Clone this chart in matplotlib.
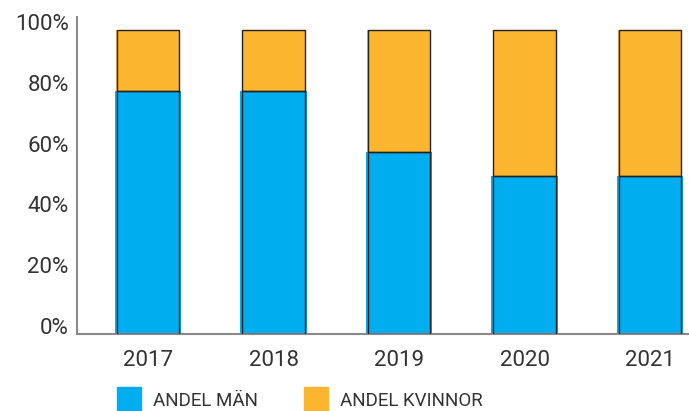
import matplotlib.pyplot as plt
from matplotlib.patches import Rectangle

years = ["2017", "2018", "2019", "2020", "2021"]
andel_man = [80, 80, 60, 52, 52]
andel_kvinnor = [20, 20, 40, 48, 48]
yticks = [0, 20, 40, 60, 80, 100]
ytick_labels = ["0%", "20%", "40%", "60%", "80%", "100%"]
legend_labels = ["ANDEL MÄN", "ANDEL KVINNOR"]

BLUE = "#00AEEF"
ORANGE = "#FBB52F"
TEXT = "#333333"
SPINE = "#8a8a8a"

plt.rcParams["font.family"] = ["Roboto", "DejaVu Sans"]


def main():
    fig = plt.figure(figsize=(6.89, 4.11), dpi=100)
    ax = fig.add_axes([77 / 689, 1 - 333.7 / 411, 1 - 77 / 689, (333.7 - 17) / 411])

    x = list(range(len(years)))
    width = 0.5

    # fills (slightly wider, like the hand-drawn look)
    ax.bar(x, andel_man, width=width * 1.06, color=BLUE, linewidth=0, zorder=2)
    ax.bar(x, andel_kvinnor, width=width * 1.02, bottom=andel_man,
           color=ORANGE, linewidth=0, zorder=2)
    # outlines
    ax.bar(x, andel_man, width=width, fill=False, edgecolor="#222222",
           linewidth=1.0, zorder=3)
    ax.bar(x, andel_kvinnor, width=width, bottom=andel_man, fill=False,
           edgecolor="#222222", linewidth=1.0, zorder=3)

    ax.set_xlim(-0.566, 4.31)
    ax.set_ylim(0, 104.3)
    ax.set_xticks(x)
    ax.set_xticklabels(years)
    ax.set_yticks(yticks)
    ax.set_yticklabels(ytick_labels)
    for lab in ax.get_yticklabels():
        lab.set_verticalalignment("baseline")
    ax.tick_params(axis="both", length=0, labelsize=16, colors=TEXT)
    ax.tick_params(axis="x", pad=12)
    ax.tick_params(axis="y", pad=6)

    for side in ["top", "right"]:
        ax.spines[side].set_visible(False)
    for side in ["left", "bottom"]:
        ax.spines[side].set_color(SPINE)
        ax.spines[side].set_linewidth(1.5)

    # legend
    W, H = 689, 411
    items = [(117, BLUE, 153, legend_labels[0]), (304, ORANGE, 340, legend_labels[1])]
    for sx, col, tx, label in items:
        fig.patches.append(Rectangle((sx / W, 0), 24 / W, 24 / H, color=col,
                                     transform=fig.transFigure, figure=fig))
        fig.text(tx / W, 1 - 405.7 / H, label, fontsize=13.5, color=TEXT,
                 va="baseline", ha="left")

    fig.savefig("out.png", dpi=100)


if __name__ == "__main__":
    main()
